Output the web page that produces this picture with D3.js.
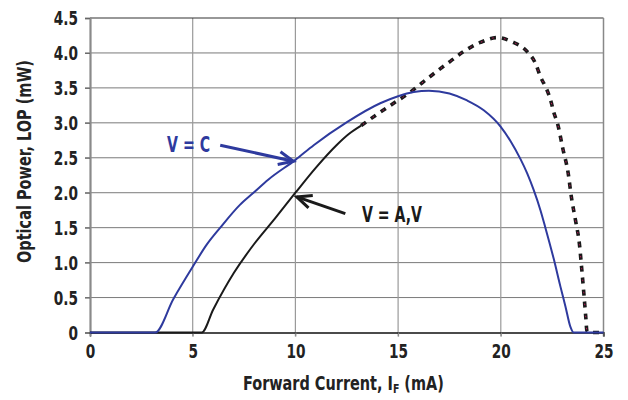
<!DOCTYPE html>
<html><head><meta charset="utf-8">
<script src="https://cdn.jsdelivr.net/npm/d3@7"></script>
<style>
html,body{margin:0;padding:0;background:#fff;}
text{font-family:"DejaVu Sans Condensed","DejaVu Sans",sans-serif;font-weight:bold;}
</style></head>
<body>
<svg id="chart" width="628" height="400"></svg>
<script>
// ---- data ----
const xTicks = [0, 5, 10, 15, 20, 25];
const yTicks = [0, 0.5, 1.0, 1.5, 2.0, 2.5, 3.0, 3.5, 4.0, 4.5];
const xLabelMain = "Forward Current, I";
const xLabelSub = "F";
const xLabelUnit = " (mA)";
const yLabel = "Optical Power, LOP (mW)";

// V = C (blue)
const blueX = [0, 3.17, 4.06, 5, 5.69, 6.34, 7.31, 7.96, 8.69, 10, 10.89, 12.51, 14.13, 15.0, 15.76, 16.5, 17.5, 18.36, 19.17, 19.98, 20.47, 20.96, 21.28, 21.6, 21.93, 22.17, 22.58, 22.9, 23.15, 23.39, 23.55, 25];
const blueY = [0, 0, 0.48, 0.94, 1.26, 1.5, 1.83, 2.0, 2.19, 2.47, 2.68, 3.01, 3.28, 3.38, 3.44, 3.46, 3.42, 3.32, 3.18, 2.95, 2.74, 2.48, 2.28, 2.04, 1.75, 1.5, 1.05, 0.66, 0.37, 0.08, 0, 0];

// V = A,V (black solid part)
const blackX = [0, 5.44, 6.0, 7.0, 8.0, 9.0, 10.0, 11.0, 12.0, 12.6, 13.2];
const blackY = [0, 0, 0.33, 0.85, 1.27, 1.63, 2.0, 2.36, 2.68, 2.84, 2.96];

// V = A,V (black dashed part)
const dashX = [13.2, 13.97, 14.78, 15.6, 16.16, 16.81, 17.54, 18.19, 19.0, 19.82, 20.55, 21.28, 21.69, 21.93, 22.22, 22.42, 22.58, 22.78, 23.02, 23.28, 23.44, 23.64, 23.83, 23.94, 24.04, 24.14, 24.19, 24.3, 25];
const dashY = [2.96, 3.12, 3.28, 3.44, 3.57, 3.72, 3.88, 4.02, 4.15, 4.22, 4.16, 4.02, 3.85, 3.66, 3.49, 3.33, 3.15, 2.97, 2.63, 2.28, 1.93, 1.6, 1.26, 0.91, 0.57, 0.21, 0.03, 0, 0];

// annotations (data units)
const annC = {text: "V = C", x: 3.75, y: 2.58, from: [6.34, 2.68], to: [9.9, 2.45]};
const annA = {text: "V = A,V", x: 13.24, y: 1.58, from: [12.43, 1.70], to: [10.07, 1.94]};

// ---- chart ----
const svg = d3.select("#chart");
const L = 90, R = 603.5, T = 18, B = 332.5;
const x = d3.scaleLinear().domain([0, 25]).range([L, R]);
const y = d3.scaleLinear().domain([0, 4.5]).range([B, T]);

function condense(sel, factor) {
  sel.each(function () {
    const w = this.getComputedTextLength();
    d3.select(this).attr("textLength", w * factor).attr("lengthAdjust", "spacingAndGlyphs");
  });
}

// gridlines
svg.append("g").selectAll("line").data(yTicks.filter(d => d > 0 && d < 4.5)).join("line")
  .attr("x1", L - 5).attr("x2", R).attr("y1", d => y(d)).attr("y2", d => y(d))
  .attr("stroke", "#7a7a7a").attr("stroke-width", 1);
svg.append("g").selectAll("line").data(xTicks.filter(d => d > 0 && d < 25)).join("line")
  .attr("x1", d => x(d)).attr("x2", d => x(d)).attr("y1", T).attr("y2", B + 4)
  .attr("stroke", "#9a9a9a").attr("stroke-width", 1.2);

// frame
svg.append("line").attr("x1", L).attr("x2", R).attr("y1", T).attr("y2", T).attr("stroke", "#333").attr("stroke-width", 1.2);
svg.append("line").attr("x1", R).attr("x2", R).attr("y1", T).attr("y2", B + 4).attr("stroke", "#888").attr("stroke-width", 1.5);

// axes
const yAxis = d3.axisLeft(y).tickValues(yTicks).tickSize(5).tickPadding(7)
  .tickFormat(d => d === 0 ? "0" : d3.format(".1f")(d));
const gy = svg.append("g").attr("transform", `translate(${L},0)`).call(yAxis);
gy.select(".domain").attr("stroke", "#8a8a8a").attr("stroke-width", 2.2);
gy.selectAll(".tick line").attr("stroke", "#666");
gy.selectAll("text").attr("font-size", 19).attr("fill", "#222").attr("dy", "0.36em")
  .style("font-family", '"DejaVu Sans Condensed","DejaVu Sans",sans-serif').style("font-weight", "bold");
condense(gy.selectAll("text"), 0.8);

const xAxis = d3.axisBottom(x).tickValues(xTicks).tickSize(4).tickPadding(8).tickFormat(d3.format("d"));
const gx = svg.append("g").attr("transform", `translate(0,${B})`).call(xAxis);
gx.select(".domain").attr("stroke", "#111").attr("stroke-width", 1.6);
gx.selectAll(".tick line").attr("stroke", "#888");
gx.selectAll("text").attr("font-size", 19).attr("fill", "#222")
  .style("font-family", '"DejaVu Sans Condensed","DejaVu Sans",sans-serif').style("font-weight", "bold");
condense(gx.selectAll("text"), 0.8);

// curves
const line = d3.line().x(d => x(d[0])).y(d => y(d[1])).curve(d3.curveMonotoneX);
const zip = (a, b) => a.map((v, i) => [v, b[i]]);

svg.append("path").attr("d", line(zip(blackX, blackY))).attr("fill", "none")
  .attr("stroke", "#1a1a1a").attr("stroke-width", 2);
svg.append("path").attr("d", line(zip(dashX, dashY))).attr("fill", "none")
  .attr("stroke", "#1a1a1a").attr("stroke-width", 3.6).attr("stroke-dasharray", "6,6");
svg.append("path").attr("d", line(zip(dashX, dashY))).attr("fill", "none")
  .attr("stroke", "#c2185b").attr("stroke-width", 1).attr("stroke-dasharray", "1.5,10.5").attr("stroke-dashoffset", -2.2);
svg.append("path").attr("d", line(zip(blueX, blueY))).attr("fill", "none")
  .attr("stroke", "#2e3a9e").attr("stroke-width", 2);

// annotations
function arrow(a, color) {
  const x1 = x(a.from[0]), y1 = y(a.from[1]), x2 = x(a.to[0]), y2 = y(a.to[1]);
  svg.append("line").attr("x1", x1).attr("y1", y1).attr("x2", x2).attr("y2", y2)
    .attr("stroke", color).attr("stroke-width", 3);
  const ang = Math.atan2(y2 - y1, x2 - x1), len = 16, spread = 0.42;
  const p1 = [x2 - len * Math.cos(ang - spread), y2 - len * Math.sin(ang - spread)];
  const p2 = [x2 - len * Math.cos(ang + spread), y2 - len * Math.sin(ang + spread)];
  svg.append("path").attr("d", `M${p1[0]},${p1[1]}L${x2},${y2}L${p2[0]},${p2[1]}`)
    .attr("fill", "none").attr("stroke", color).attr("stroke-width", 3).attr("stroke-linejoin", "miter");
}
arrow(annC, "#2e3a9e");
arrow(annA, "#1a1a1a");
svg.append("text").attr("x", x(annC.x)).attr("y", y(annC.y)).attr("font-size", 21).attr("fill", "#2e3a9e")
  .attr("textLength", 43).attr("lengthAdjust", "spacingAndGlyphs").text(annC.text);
svg.append("text").attr("x", x(annA.x)).attr("y", y(annA.y)).attr("font-size", 21).attr("fill", "#1a1a1a")
  .attr("textLength", 60).attr("lengthAdjust", "spacingAndGlyphs").text(annA.text);

// x-axis title: one text with subscript, condensed by a horizontal scale
const xtG = svg.append("g");
const xt = xtG.append("text").attr("x", 0).attr("y", 0).attr("font-size", 20).attr("fill", "#222");
xt.append("tspan").text(xLabelMain);
xt.append("tspan").attr("font-size", 13).attr("dy", 3).text(xLabelSub);
xt.append("tspan").attr("dy", -3).text(xLabelUnit);
const natW = xt.node().getComputedTextLength();
const sx = 201 / natW;
xtG.attr("transform", `translate(243,390) scale(${sx},1)`);

svg.append("text").attr("transform", `translate(31,161.5) rotate(-90)`).attr("text-anchor", "middle")
  .attr("font-size", 19).attr("fill", "#222").attr("textLength", 203).attr("lengthAdjust", "spacingAndGlyphs").text(yLabel);
</script>
</body></html>
